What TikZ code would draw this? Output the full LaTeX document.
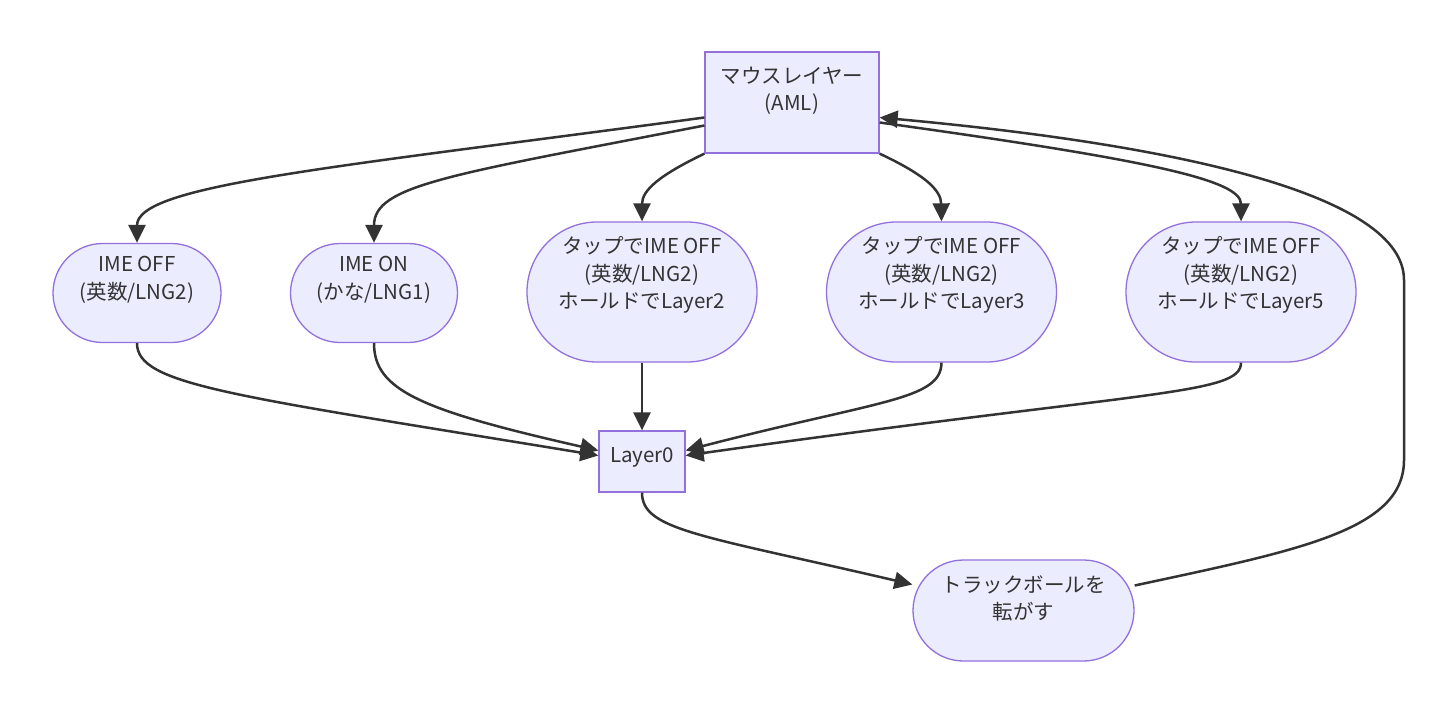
\documentclass[tikz,border=0pt]{standalone}
\usepackage{fontspec}
\setmainfont{Noto Sans CJK JP}
\usetikzlibrary{shapes.misc,arrows.meta,calc}
\definecolor{nfill}{HTML}{ECECFF}
\definecolor{nline}{HTML}{9370DB}
\definecolor{eline}{HTML}{333333}
\begin{document}
\begin{tikzpicture}[x=1pt,y=-1pt,
 box/.style={draw=nline,fill=nfill,line width=1.3pt,rectangle,inner sep=0pt},
 stad/.style={draw=nline,fill=nfill,line width=1.3pt,rounded rectangle,inner sep=0pt},
 lbl/.style={align=center,font=\fontsize{20.5}{27.5}\selectfont,inner sep=0pt,text=eline},
 edge/.style={draw=eline,line width=2.5pt,-{Triangle[length=18pt,width=17pt]}},
]
\useasboundingbox[fill=white] (0,0) rectangle (1456,713);

\node[box,minimum width=174pt,minimum height=101pt] (top) at (792,102.5) {};
\node[lbl] (topt) at ([yshift=11.5pt]top.center) {マウスレイヤー\\(AML)};

\node[stad,minimum width=168pt,minimum height=99pt] (imeoff) at (137,293) {};
\node[lbl] (imeofft) at ([yshift=13pt]imeoff.center) {IME OFF\\(英数/LNG2)};

\node[stad,minimum width=167pt,minimum height=99pt] (imeon) at (374,293) {};
\node[lbl] (imeont) at ([yshift=13pt]imeon.center) {IME ON\\(かな/LNG1)};

\node[stad,minimum width=230pt,minimum height=140pt] (l2) at (642,292) {};
\node[lbl] (l2t) at ([yshift=17pt]l2.center) {タップでIME OFF\\(英数/LNG2)\\ホールドでLayer2};

\node[stad,minimum width=230pt,minimum height=140pt] (l3) at (941.5,292) {};
\node[lbl] (l3t) at ([yshift=17pt]l3.center) {タップでIME OFF\\(英数/LNG2)\\ホールドでLayer3};

\node[stad,minimum width=230pt,minimum height=140pt] (l5) at (1241,292) {};
\node[lbl] (l5t) at ([yshift=17pt]l5.center) {タップでIME OFF\\(英数/LNG2)\\ホールドでLayer5};

\node[box,minimum width=86pt,minimum height=61pt] (l0) at (642,461.5) {};
\node[lbl] (l0t) at ([yshift=4.5pt]l0.center) {Layer0};

\node[stad,minimum width=221pt,minimum height=101pt] (track) at (1023.5,610.5) {};
\node[lbl] (trackt) at ([yshift=12pt]track.center) {トラックボールを\\転がす};

\draw[edge] ([yshift=-15pt]top.west) .. controls (330,168) and (137,185) .. (imeoff.north);
\draw[edge] ([yshift=-23pt]top.west) .. controls (450,175) and (374,185) .. (imeon.north);
\draw[edge] (top.south west) .. controls (660,175) and (642,190) .. (l2.north);
\draw[edge] (top.south east) .. controls (925,175) and (941,190) .. (l3.north);
\draw[edge] ([yshift=-20pt]top.east) .. controls (1150,160) and (1241,180) .. (l5.north);

\draw[edge] (imeoff.south) .. controls (137,385) and (230,395) .. ([yshift=6pt]l0.west);
\draw[edge] (imeon.south) .. controls (374,390) and (420,410) .. ([yshift=11pt]l0.west);
\draw[edge] (l2.south) -- (l0.north);
\draw[edge] (l3.south) .. controls (941,400) and (880,400) .. ([yshift=11pt]l0.east);
\draw[edge] (l5.south) .. controls (1241,395) and (1150,390) .. ([yshift=6pt]l0.east);
\draw[edge] (l0.south) .. controls (642,530) and (700,535) .. ([yshift=26pt]track.west);
\draw[edge] ([yshift=25pt]track.east) .. controls (1300,550) and (1404,530) .. (1404,460) -- (1404,280) .. controls (1404,195) and (1180,145) .. ([yshift=-15pt]top.east);
\end{tikzpicture}
\end{document}
